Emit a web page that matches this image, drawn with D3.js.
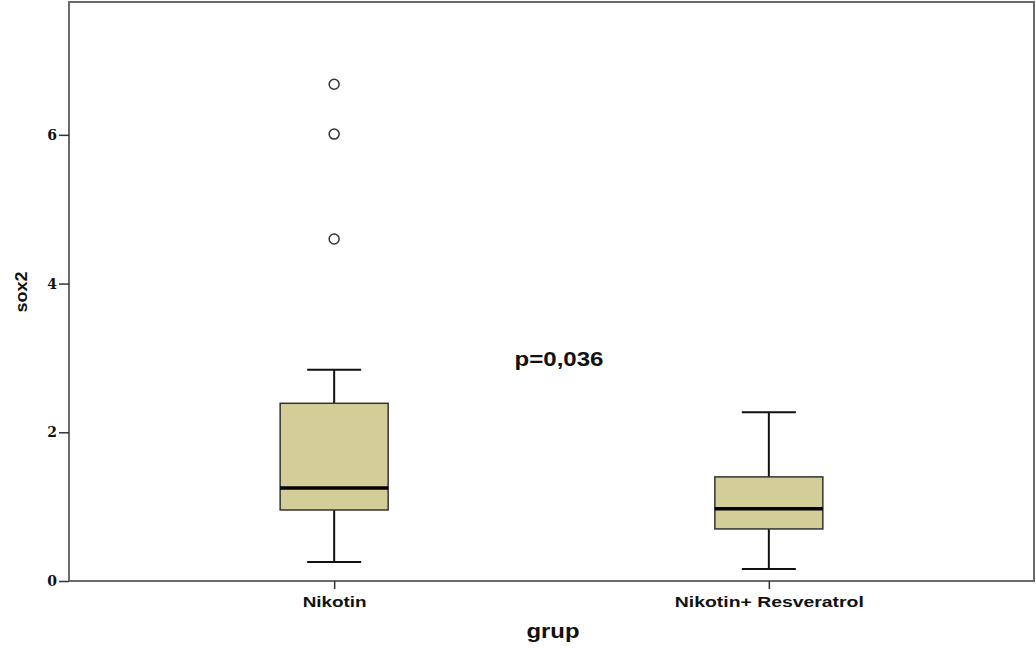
<!DOCTYPE html>
<html><head><meta charset="utf-8">
<script src="https://cdn.jsdelivr.net/npm/d3@7"></script>
<style>body{margin:0;background:#fff}</style>
</head><body>
<svg id="c" width="1036" height="653"></svg>
<script>
const categories = ["Nikotin", "Nikotin+ Resveratrol"];
const whiskerLow = [0.255, 0.16];
const q1 = [0.955, 0.70];
const median = [1.25, 0.97];
const q3 = [2.39, 1.40];
const whiskerHigh = [2.84, 2.27];
const outliers = [[6.68, 6.01, 4.60], []];
const yTicks = [0, 2, 4, 6];

const svg = d3.select("#c");
const L = 69, R = 1034, T = 1, B = 581;
const y = d3.scaleLinear().domain([0, 7.8]).range([B, T]);
const x = d3.scalePoint().domain(categories).range([L, R]).padding(0.61);
const boxW = 108, capW = 54;
const sans = "Liberation Sans, Arial, sans-serif";

// frame
svg.append("rect").attr("x", L).attr("y", T + 1).attr("width", R - L).attr("height", B - T - 1)
  .attr("fill", "none").attr("stroke", "#6a6a6a").attr("stroke-width", 2);

// y axis
const ya = svg.append("g").attr("transform", `translate(${L},0)`)
  .call(d3.axisLeft(y).tickValues(yTicks).tickSize(10).tickPadding(2).tickFormat(d3.format("d")));
ya.select(".domain").remove();
ya.selectAll("line").attr("stroke", "#333").attr("stroke-width", 1.5);
ya.selectAll("text").attr("font-family", "DejaVu Serif, serif").attr("font-weight", "bold")
  .attr("font-size", 14).attr("fill", "#111");

// x axis
const xLabelWidths = [64, 189];
const xa = svg.append("g").attr("transform", `translate(0,${B})`)
  .call(d3.axisBottom(x).tickSize(8).tickPadding(7));
xa.select(".domain").remove();
xa.selectAll("line").attr("stroke", "#333").attr("stroke-width", 1.5);
xa.selectAll("text").attr("font-family", sans).attr("font-weight", "bold")
  .attr("font-size", 15).attr("fill", "#111")
  .attr("textLength", (d, i) => xLabelWidths[i]).attr("lengthAdjust", "spacingAndGlyphs");

// boxes
categories.forEach((c, i) => {
  const cx = x(c);
  const g = svg.append("g");
  g.append("line").attr("x1", cx).attr("x2", cx).attr("y1", y(whiskerLow[i])).attr("y2", y(q1[i]))
    .attr("stroke", "#111").attr("stroke-width", 2);
  g.append("line").attr("x1", cx).attr("x2", cx).attr("y1", y(q3[i])).attr("y2", y(whiskerHigh[i]))
    .attr("stroke", "#111").attr("stroke-width", 2);
  [whiskerLow[i], whiskerHigh[i]].forEach(v => {
    g.append("line").attr("x1", cx - capW / 2).attr("x2", cx + capW / 2).attr("y1", y(v)).attr("y2", y(v))
      .attr("stroke", "#111").attr("stroke-width", 2);
  });
  g.append("rect").attr("x", cx - boxW / 2).attr("y", y(q3[i])).attr("width", boxW)
    .attr("height", y(q1[i]) - y(q3[i])).attr("fill", "#d3cd97").attr("stroke", "#333").attr("stroke-width", 1.5);
  g.append("line").attr("x1", cx - boxW / 2).attr("x2", cx + boxW / 2).attr("y1", y(median[i])).attr("y2", y(median[i]))
    .attr("stroke", "#000").attr("stroke-width", 3.5);
  outliers[i].forEach(v => {
    g.append("circle").attr("cx", cx).attr("cy", y(v)).attr("r", 5)
      .attr("fill", "#fff").attr("stroke", "#333").attr("stroke-width", 1.5);
  });
});

// labels
svg.append("text").attr("x", 559).attr("y", 366).attr("text-anchor", "middle")
  .attr("font-family", sans).attr("font-weight", "bold").attr("font-size", 20)
  .attr("textLength", 89).attr("lengthAdjust", "spacingAndGlyphs")
  .attr("fill", "#111").text("p=0,036");
svg.append("text").attr("x", 553).attr("y", 638).attr("text-anchor", "middle")
  .attr("font-family", sans).attr("font-weight", "bold").attr("font-size", 20)
  .attr("textLength", 53).attr("lengthAdjust", "spacingAndGlyphs")
  .attr("fill", "#111").text("grup");
svg.append("text").attr("transform", "translate(27,292) rotate(-90)").attr("text-anchor", "middle")
  .attr("font-family", sans).attr("font-weight", "bold").attr("font-size", 17)
  .attr("textLength", 41).attr("lengthAdjust", "spacingAndGlyphs")
  .attr("fill", "#111").text("sox2");
</script>
</body></html>
